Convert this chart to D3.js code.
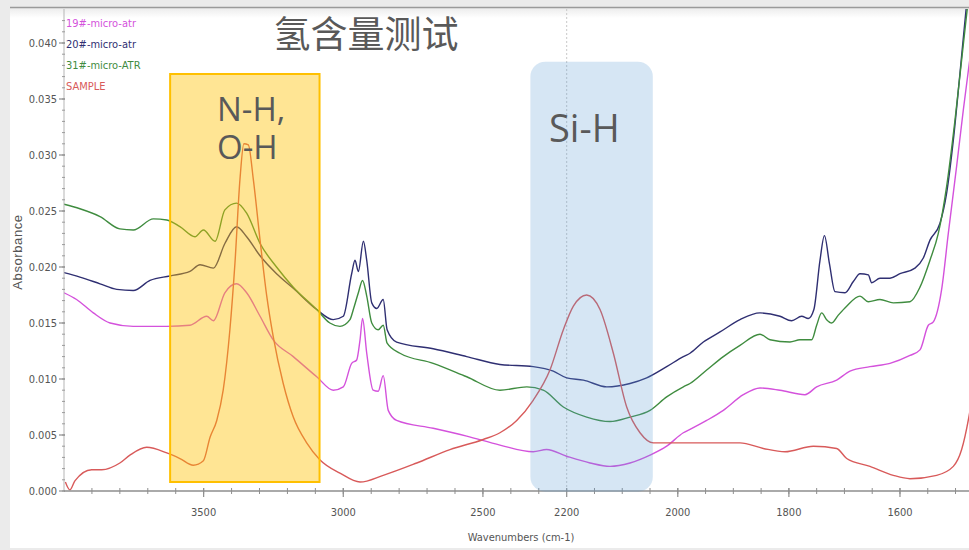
<!DOCTYPE html>
<html>
<head>
<meta charset="utf-8">
<script src="https://cdn.jsdelivr.net/npm/d3@7"></script>
<style>
  html, body { margin: 0; padding: 0; background: #ebebeb; }
  svg { display: block; }
</style>
</head>
<body>
<svg id="chart" width="969" height="550"></svg>
<script>
// FTIR absorbance spectra: [wavenumber (cm-1), absorbance]
const spec19 = [
  [4000,0.0177],[3955,0.0171],[3895,0.0159],[3835,0.0150],[3752,0.0147],[3632,0.0147],
  [3549,0.0148],[3489,0.0156],[3465,0.0152],[3424,0.0177],[3382,0.0185],[3346,0.0177],
  [3298,0.0156],[3251,0.0135],[3179,0.0120],[3095,0.0102],[3036,0.0090],[3000,0.0093],
  [2970,0.0114],[2952,0.0117],[2940,0.0135],[2931,0.0154],[2916,0.0123],[2893,0.0090],
  [2875,0.0089],[2857,0.0103],[2839,0.0072],[2809,0.0063],[2678,0.0056],[2558,0.0049],
  [2439,0.0041],[2320,0.0035],[2272,0.0037],[2200,0.0031],[2158,0.0025],[2122,0.0022],
  [2086,0.0025],[2050,0.0032],[2020,0.0040],[1990,0.0052],[1978,0.0055],[1948,0.0063],
  [1918,0.0072],[1882,0.0086],[1852,0.0092],[1816,0.0090],[1771,0.0086],[1750,0.0093],
  [1714,0.0099],[1690,0.0107],[1654,0.0111],[1618,0.0114],[1582,0.0121],[1564,0.0126],
  [1549,0.0148],[1540,0.0151],[1525,0.0180],[1513,0.0230],[1498,0.0290],[1486,0.0340],
  [1476,0.0379],[1465,0.0420]
];
const spec20 = [
  [4000,0.0195],[3943,0.0191],[3871,0.0185],[3811,0.0180],[3752,0.0179],[3692,0.0188],
  [3621,0.0192],[3549,0.0196],[3513,0.0202],[3465,0.0199],[3424,0.0221],[3382,0.0236],
  [3346,0.0227],[3298,0.0210],[3239,0.0194],[3179,0.0181],[3095,0.0162],[3036,0.0153],
  [3000,0.0156],[2970,0.0194],[2958,0.0206],[2946,0.0196],[2928,0.0223],[2916,0.0206],
  [2898,0.0168],[2880,0.0163],[2857,0.0171],[2843,0.0144],[2809,0.0133],[2678,0.0127],
  [2558,0.0120],[2439,0.0113],[2320,0.0111],[2248,0.0107],[2200,0.0101],[2170,0.0099],
  [2128,0.0093],[2086,0.0096],[2056,0.0101],[2020,0.0111],[1990,0.0120],[1978,0.0123],
  [1954,0.0133],[1924,0.0142],[1888,0.0153],[1852,0.0159],[1816,0.0156],[1795,0.0152],
  [1777,0.0156],[1765,0.0154],[1755,0.0162],[1744,0.0206],[1736,0.0228],[1727,0.0203],
  [1717,0.0178],[1699,0.0177],[1684,0.0187],[1672,0.0194],[1657,0.0193],[1651,0.0186],
  [1636,0.0190],[1618,0.0190],[1600,0.0194],[1573,0.0199],[1558,0.0208],[1546,0.0224],
  [1528,0.0239],[1516,0.0266],[1504,0.0313],[1492,0.0373],[1481,0.0430],[1470,0.0480]
];
const spec31 = [
  [4000,0.0256],[3943,0.0252],[3871,0.0245],[3800,0.0234],[3752,0.0233],[3680,0.0243],
  [3632,0.0242],[3585,0.0236],[3531,0.0227],[3501,0.0233],[3459,0.0223],[3424,0.0251],
  [3382,0.0257],[3346,0.0248],[3298,0.0221],[3239,0.0200],[3179,0.0182],[3095,0.0162],
  [3048,0.0150],[3012,0.0147],[2976,0.0153],[2964,0.0162],[2946,0.0177],[2931,0.0188],
  [2916,0.0174],[2898,0.0150],[2875,0.0144],[2857,0.0148],[2843,0.0132],[2797,0.0123],
  [2678,0.0114],[2558,0.0102],[2439,0.0090],[2343,0.0093],[2284,0.0090],[2212,0.0075],
  [2164,0.0066],[2122,0.0062],[2086,0.0066],[2050,0.0072],[2020,0.0084],[1990,0.0093],
  [1978,0.0096],[1948,0.0108],[1918,0.0120],[1888,0.0130],[1852,0.0140],[1834,0.0135],
  [1798,0.0133],[1780,0.0135],[1759,0.0135],[1750,0.0148],[1741,0.0159],[1732,0.0153],
  [1723,0.0150],[1711,0.0157],[1696,0.0165],[1672,0.0174],[1657,0.0169],[1636,0.0171],
  [1612,0.0168],[1582,0.0169],[1564,0.0182],[1546,0.0206],[1531,0.0230],[1516,0.0272],
  [1501,0.0331],[1489,0.0385],[1479,0.0430],[1470,0.0470]
];
const specSample = [
  [3995,0.0008],[3979,0.0001],[3961,0.0009],[3901,0.0019],[3865,0.0019],[3800,0.0025],
  [3764,0.0032],[3704,0.0039],[3632,0.0034],[3585,0.0029],[3537,0.0023],[3501,0.0027],
  [3477,0.0048],[3453,0.0063],[3430,0.0090],[3406,0.0144],[3388,0.0203],[3370,0.0278],
  [3356,0.0310],[3340,0.0309],[3322,0.0278],[3298,0.0224],[3274,0.0174],[3251,0.0138],
  [3215,0.0096],[3179,0.0066],[3131,0.0043],[3084,0.0028],[3012,0.0016],[2940,0.0008],
  [2857,0.0014],[2737,0.0025],[2618,0.0037],[2499,0.0046],[2439,0.0052],[2379,0.0063],
  [2320,0.0081],[2260,0.0108],[2212,0.0144],[2188,0.0165],[2164,0.0175],[2140,0.0162],
  [2116,0.0123],[2092,0.0075],[2068,0.0052],[2044,0.0043],[2020,0.0043],[1978,0.0043],
  [1888,0.0043],[1846,0.0038],[1807,0.0035],[1756,0.0040],[1714,0.0038],[1696,0.0029],
  [1654,0.0022],[1612,0.0014],[1582,0.0011],[1534,0.0014],[1504,0.0022],[1489,0.0037],
  [1476,0.0066],[1465,0.0100]
];

const seriesNames  = ["19#-micro-atr", "20#-micro-atr", "31#-micro-ATR", "SAMPLE"];
const seriesColors = ["#d452dc", "#2f2f72", "#3f8c3f", "#d85a5a"];
const seriesData   = [spec19, spec20, spec31, specSample];

const xMajorTicks = [3500, 3000, 2500, 2200, 2000, 1800, 1600];
const yMajorTicks = [0, 0.005, 0.010, 0.015, 0.020, 0.025, 0.030, 0.035, 0.040];

const titleText = "氢含量测试";
const bandNH = { from: 3620, to: 3085, label: ["N-H,", "O-H"] };
const bandSiH = { from: 2330, to: 2045, label: "Si-H" };

const svg = d3.select("#chart");
const W = 969, H = 550;

// panel
svg.append("rect").attr("x", 10).attr("y", 8).attr("width", W - 10).attr("height", H - 10).attr("fill", "#ffffff");
const defs = svg.append("defs");
const grad = defs.append("linearGradient").attr("id", "topShade").attr("x1", 0).attr("x2", 0).attr("y1", 0).attr("y2", 1);
grad.append("stop").attr("offset", 0).attr("stop-color", "#ececec");
grad.append("stop").attr("offset", 1).attr("stop-color", "#ffffff");
svg.append("rect").attr("x", 10).attr("y", 8).attr("width", W - 10).attr("height", 10).attr("fill", "url(#topShade)");
svg.append("line").attr("x1", 10).attr("x2", W).attr("y1", 7.5).attr("y2", 7.5)
  .attr("stroke", "#9a9a9a").attr("stroke-width", 1.5);

// wavenumber axis is expanded 2x below 2200 cm-1
const x = d3.scaleLinear().domain([4000, 2200, 1450]).range([64, 566.7, 983.3]);
const y = d3.scaleLinear().domain([0, 0.043]).range([491, 9.4]);

const plotTop = 9, plotBottom = 491, plotLeft = 64;

defs.append("clipPath").attr("id", "plotClip")
  .append("rect").attr("x", plotLeft).attr("y", plotTop).attr("width", W - plotLeft).attr("height", plotBottom - plotTop);

const axisColor = "#8e8e8e";
const tickFont = "'Liberation Sans Narrow', 'DejaVu Sans Condensed', 'Arial Narrow', sans-serif";

// dotted marker at the scale break
svg.append("line")
  .attr("x1", x(2200)).attr("x2", x(2200))
  .attr("y1", plotTop).attr("y2", plotBottom)
  .attr("stroke", "#c8c8c8").attr("stroke-width", 1).attr("stroke-dasharray", "2,2");

// spectra
const line = d3.line()
  .x(d => x(d[0]))
  .y(d => y(d[1]))
  .curve(d3.curveMonotoneX);

const plot = svg.append("g").attr("clip-path", "url(#plotClip)");
plot.selectAll("path.spec")
  .data(seriesData)
  .join("path")
  .attr("class", "spec")
  .attr("d", d => line(d))
  .attr("fill", "none")
  .attr("stroke", (d, i) => seriesColors[i])
  .attr("stroke-width", 1.4)
  .attr("stroke-linejoin", "round");

// x axis
const xAxis = svg.append("g").attr("transform", `translate(0,${plotBottom})`);
xAxis.append("line").attr("x1", plotLeft).attr("x2", W).attr("y1", 0).attr("y2", 0)
  .attr("stroke", axisColor).attr("stroke-width", 1.5);
const xMinor = d3.range(3900, 2200, -100).concat(d3.range(2150, 1450, -50));
xAxis.selectAll("line.minor").data(xMinor).join("line").attr("class", "minor")
  .attr("x1", d => x(d)).attr("x2", d => x(d)).attr("y1", -3).attr("y2", 3)
  .attr("stroke", axisColor).attr("stroke-width", 1);
xAxis.selectAll("line.major").data(xMajorTicks).join("line").attr("class", "major")
  .attr("x1", d => x(d)).attr("x2", d => x(d)).attr("y1", -3).attr("y2", 6)
  .attr("stroke", axisColor).attr("stroke-width", 1.2);
xAxis.selectAll("text").data(xMajorTicks).join("text")
  .attr("x", d => x(d)).attr("y", 25)
  .attr("text-anchor", "middle")
  .attr("font-family", tickFont).attr("font-size", 11).attr("fill", "#555")
  .text(d => d3.format("d")(d));

svg.append("text")
  .attr("x", 521).attr("y", 541)
  .attr("text-anchor", "middle")
  .attr("font-family", tickFont).attr("font-size", 11).attr("fill", "#555")
  .text("Wavenumbers (cm-1)");

// y axis
const yAxis = svg.append("g").attr("transform", `translate(${plotLeft},0)`);
yAxis.append("line").attr("x1", 0).attr("x2", 0).attr("y1", plotTop).attr("y2", plotBottom)
  .attr("stroke", "#b5b5b5").attr("stroke-width", 1);
const yMinor = d3.range(0, 0.043, 0.001);
yAxis.selectAll("line.minor").data(yMinor).join("line").attr("class", "minor")
  .attr("x1", -2).attr("x2", 1).attr("y1", d => y(d)).attr("y2", d => y(d))
  .attr("stroke", "#9a9a9a").attr("stroke-width", 1);
yAxis.selectAll("line.major").data(yMajorTicks).join("line").attr("class", "major")
  .attr("x1", -5).attr("x2", 1).attr("y1", d => y(d)).attr("y2", d => y(d))
  .attr("stroke", axisColor).attr("stroke-width", 1.2);
yAxis.selectAll("text").data(yMajorTicks).join("text")
  .attr("x", -7).attr("y", d => y(d)).attr("dy", "0.35em")
  .attr("text-anchor", "end")
  .attr("font-family", tickFont).attr("font-size", 11).attr("fill", "#555")
  .text(d => d3.format(".3f")(d));

svg.append("text")
  .attr("transform", "translate(22,252) rotate(-90)")
  .attr("text-anchor", "middle")
  .attr("font-family", "'Liberation Sans', Arial, sans-serif").attr("font-size", 13)
  .attr("letter-spacing", 0.6).attr("fill", "#555")
  .text("Absorbance");

// legend
svg.selectAll("text.legend").data(seriesNames).join("text").attr("class", "legend")
  .attr("x", 66).attr("y", (d, i) => 26.5 + i * 21.3)
  .attr("font-family", tickFont).attr("font-size", 11)
  .attr("fill", (d, i) => seriesColors[i])
  .text(d => d);

// highlighted bands
svg.append("rect")
  .attr("x", x(bandNH.from)).attr("y", 74)
  .attr("width", x(bandNH.to) - x(bandNH.from)).attr("height", 408)
  .attr("fill", "#ffc000").attr("fill-opacity", 0.42)
  .attr("stroke", "#ffc000").attr("stroke-width", 2);

svg.append("rect")
  .attr("x", x(bandSiH.from)).attr("y", 61.7)
  .attr("width", x(bandSiH.to) - x(bandSiH.from)).attr("height", 430)
  .attr("rx", 15).attr("ry", 15)
  .attr("fill", "#5b9bd5").attr("fill-opacity", 0.25);

// annotations
const annFont = "'Open Sans', 'Noto Sans', sans-serif";
const nhText = svg.append("text")
  .attr("font-family", annFont).attr("font-size", 33).attr("fill", "#595959");
nhText.selectAll("tspan").data(bandNH.label).join("tspan")
  .attr("x", 217).attr("y", (d, i) => 121 + i * 38)
  .text(d => d);
svg.append("text").attr("x", 549).attr("y", 141.5)
  .attr("font-family", annFont).attr("font-size", 38).attr("fill", "#595959")
  .text(bandSiH.label);

// title
svg.append("text").attr("x", 366).attr("y", 48)
  .attr("text-anchor", "middle")
  .attr("font-family", "'Noto Sans CJK SC', sans-serif").attr("font-size", 37).attr("fill", "#595959")
  .text(titleText);
</script>
</body>
</html>
